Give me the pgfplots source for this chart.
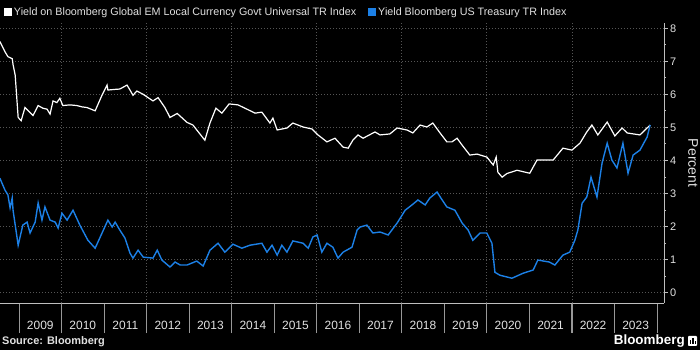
\documentclass[border=0pt]{standalone}
\usepackage{pgfplots}
\pgfplotsset{compat=1.18}
\usepackage{fontspec}
\setmainfont{Liberation Sans}
\definecolor{bbblue}{RGB}{28,128,230}
\definecolor{gridgray}{RGB}{85,85,85}
\definecolor{axgray}{RGB}{190,190,190}
\definecolor{txt}{RGB}{225,225,225}
\begin{document}
\begin{tikzpicture}
\fill[black] (0,0) rectangle (700bp,350bp);
\begin{axis}[
  at={(0bp,47bp)}, anchor=south west,
  width=664bp, height=280bp, scale only axis,
  xmin=2008.553, xmax=2024.166,
  ymin=-0.32, ymax=8.16,
  axis x line*=bottom, axis y line*=right,
  axis line style={axgray, line width=0.8bp},
  tick align=outside,
  major tick length=3.5bp, minor tick length=2bp,
  ytick={0,...,8}, minor ytick={0.5,1.5,...,7.5},
  ytick style={axgray, line width=0.7bp},
  yticklabel style={font=\fontsize{11}{13}\selectfont, text=txt, xshift=-1bp},
  /pgf/number format/assume math mode=true,
  ymajorgrids=true,
  grid style={gridgray, line width=0.7bp, dash pattern=on 1bp off 2bp},
  xtick={2009,...,2024},
  xticklabels={2009,2010,2011,2012,2013,2014,2015,2016,2017,2018,2019,2020,2021,2022,2023,{}},
  xtick style={axgray!80!black, line width=0.7bp, /pgfplots/major tick length=30bp},
  xticklabel style={font=\fontsize{12}{14}\selectfont, text=txt, xshift=21.26bp, yshift=-11bp},
  extra x ticks={2010,2012,...,2022},
  extra x tick labels={},
  extra x tick style={grid=major},
  legend columns=2,
  legend style={at={(0,1)}, anchor=south west, xshift=4bp, yshift=4bp, draw=none, fill=none,
    text=txt, font=\fontsize{10.8}{12}\selectfont, inner sep=0pt,
    /tikz/every even column/.append style={column sep=10bp}},
  legend image code/.code={\fill[#1] (0bp,-3.3bp) rectangle (6.6bp,3.3bp);},
]
\addplot[white, line width=1.2bp] coordinates {
(2008.55,7.60) (2008.67,7.29) (2008.74,7.14) (2008.84,7.08) (2008.86,6.90) (2008.91,6.58)
(2008.98,5.30) (2009.05,5.20) (2009.14,5.60) (2009.26,5.45) (2009.33,5.36) (2009.45,5.66)
(2009.56,5.58) (2009.66,5.55) (2009.73,5.40) (2009.80,5.80) (2009.89,5.75) (2009.96,5.88)
(2010.03,5.66) (2010.20,5.68) (2010.36,5.66) (2010.48,5.62) (2010.60,5.60) (2010.79,5.50)
(2010.95,5.97) (2011.07,6.28) (2011.09,6.13) (2011.26,6.15) (2011.37,6.16) (2011.54,6.28)
(2011.61,6.13) (2011.68,5.97) (2011.77,6.10) (2011.92,6.00) (2012.15,5.80) (2012.27,5.90)
(2012.43,5.60) (2012.55,5.30) (2012.72,5.42) (2012.95,5.15) (2013.09,5.07) (2013.18,4.92)
(2013.37,4.61) (2013.49,5.13) (2013.63,5.58) (2013.77,5.43) (2013.94,5.71) (2014.15,5.68)
(2014.36,5.55) (2014.55,5.43) (2014.71,5.46) (2014.90,5.13) (2014.97,5.28) (2015.07,4.92)
(2015.30,4.98) (2015.44,5.13) (2015.68,5.01) (2015.89,4.95) (2016.03,4.77) (2016.24,4.56)
(2016.43,4.67) (2016.62,4.40) (2016.74,4.37) (2016.85,4.61) (2016.97,4.77) (2017.09,4.67)
(2017.37,4.86) (2017.49,4.77) (2017.72,4.80) (2017.89,4.98) (2018.12,4.92) (2018.26,4.83)
(2018.43,5.07) (2018.59,5.01) (2018.73,5.13) (2018.90,4.83) (2019.06,4.56) (2019.18,4.56)
(2019.30,4.67) (2019.42,4.46) (2019.60,4.16) (2019.77,4.19) (2020.00,4.10) (2020.15,3.86)
(2020.22,4.10) (2020.26,3.64) (2020.36,3.49) (2020.47,3.60) (2020.71,3.70) (2021.01,3.61)
(2021.18,4.01) (2021.41,4.01) (2021.56,4.01) (2021.79,4.37) (2022.00,4.31) (2022.19,4.52)
(2022.35,4.86) (2022.47,5.07) (2022.61,4.77) (2022.83,5.16) (2023.01,4.74) (2023.18,4.98)
(2023.30,4.83) (2023.60,4.77) (2023.84,5.07)
};
\addlegendentry{Yield on Bloomberg Global EM Local Currency Govt Universal TR Index}
\addplot[bbblue, line width=1.4bp] coordinates {
(2008.55,3.46) (2008.67,3.10) (2008.74,2.95) (2008.79,2.56) (2008.84,2.86) (2008.86,2.49)
(2008.98,1.43) (2009.09,2.04) (2009.19,2.13) (2009.26,1.80) (2009.38,2.13) (2009.45,2.71)
(2009.54,2.19) (2009.61,2.59) (2009.73,2.19) (2009.85,2.13) (2009.92,1.95) (2010.01,2.40)
(2010.13,2.19) (2010.27,2.49) (2010.43,2.04) (2010.62,1.58) (2010.79,1.34) (2010.90,1.65)
(2011.09,2.19) (2011.19,1.98) (2011.26,2.13) (2011.37,1.89) (2011.49,1.65) (2011.61,1.19)
(2011.68,1.04) (2011.80,1.28) (2011.92,1.07) (2012.15,1.04) (2012.25,1.28) (2012.36,0.98)
(2012.55,0.77) (2012.67,0.92) (2012.79,0.83) (2012.95,0.83) (2013.18,0.95) (2013.33,0.80)
(2013.49,1.28) (2013.68,1.49) (2013.84,1.22) (2014.03,1.46) (2014.24,1.34) (2014.43,1.43)
(2014.71,1.49) (2014.83,1.22) (2014.95,1.43) (2015.07,1.13) (2015.18,1.43) (2015.30,1.22)
(2015.44,1.56) (2015.68,1.49) (2015.80,1.34) (2015.91,1.68) (2016.01,1.74) (2016.12,1.22)
(2016.24,1.49) (2016.38,1.37) (2016.50,1.04) (2016.62,1.22) (2016.83,1.37) (2016.95,1.89)
(2017.02,1.98) (2017.18,2.04) (2017.32,1.80) (2017.49,1.83) (2017.68,1.74) (2017.89,2.10)
(2018.08,2.49) (2018.24,2.65) (2018.38,2.80) (2018.55,2.65) (2018.66,2.86) (2018.83,3.04)
(2018.95,2.80) (2019.06,2.59) (2019.25,2.49) (2019.42,2.10) (2019.56,1.89) (2019.67,1.58)
(2019.84,1.80) (2020.00,1.80) (2020.12,1.49) (2020.19,0.61) (2020.31,0.52) (2020.50,0.46)
(2020.59,0.43) (2020.85,0.58) (2021.09,0.68) (2021.20,0.98) (2021.47,0.92) (2021.60,0.83)
(2021.79,1.13) (2021.95,1.22) (2022.07,1.58) (2022.14,1.89) (2022.24,2.70) (2022.35,2.89)
(2022.45,3.49) (2022.59,2.89) (2022.71,3.92) (2022.83,4.52) (2022.94,4.01) (2023.06,3.77)
(2023.20,4.52) (2023.32,3.61) (2023.44,4.16) (2023.60,4.31) (2023.77,4.71) (2023.84,5.07)
};
\addlegendentry{Yield Bloomberg US Treasury TR Index}
\end{axis}
\node[rotate=-90, text=txt, font=\fontsize{14}{16}\selectfont] at (693bp,187bp) {Percent};
\node[anchor=west, text=txt, font=\bfseries\fontsize{11}{13}\selectfont, inner sep=0pt] at (2bp,8.5bp) {Source: Bloomberg};
\node[anchor=east, text=white, font=\bfseries\fontsize{13.5}{15}\selectfont, inner sep=0pt] at (685bp,9bp) {Bloomberg};
\fill[white, rounded corners=0.8bp] (688bp,4bp) rectangle (697bp,14bp);
\fill[black] (690bp,6bp) rectangle (691.2bp,10bp);
\fill[black] (692.4bp,6bp) rectangle (693.6bp,12bp);
\fill[black] (694.8bp,6bp) rectangle (696bp,9bp);
\pgfresetboundingbox
\path[use as bounding box] (0,0) rectangle (700bp,350bp);
\end{tikzpicture}
\end{document}
